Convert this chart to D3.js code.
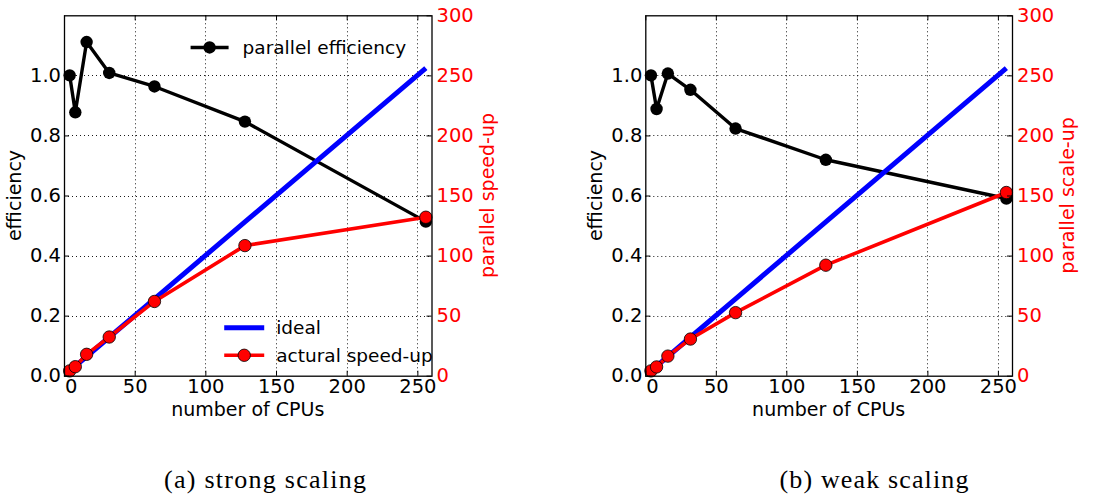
<!DOCTYPE html>
<html><head><meta charset="utf-8">
<script src="https://cdn.jsdelivr.net/npm/d3@7"></script>
<style>
body{margin:0;background:#fff;}
svg{display:block;}
</style></head><body>
<svg id="chart" width="1117" height="494" font-family="DejaVu Sans"></svg>
<script>
const cpus = [4, 8, 16, 32, 64, 128, 256];
const idealSpeedup = [4, 8, 16, 32, 64, 128, 256];
const strongEfficiency = [1.0, 0.877, 1.111, 1.008, 0.963, 0.846, 0.513];
const strongSpeedup = [4.0, 7.5, 17.8, 32.2, 61.8, 108.3, 131.9];
const weakEfficiency = [1.0, 0.888, 1.006, 0.952, 0.823, 0.719, 0.590];
const weakScaleup = [4.0, 7.3, 16.3, 30.5, 52.5, 92.0, 152.5];
const xTicks = [0, 50, 100, 150, 200, 250];
const effTicks = [0.0, 0.2, 0.4, 0.6, 0.8, 1.0];
const speedTicks = [0, 50, 100, 150, 200, 250, 300];
const captions = ["(a) strong scaling", "(b) weak scaling"];
const rightLabels = ["parallel speed-up", "parallel scale-up"];
const legendLabels = ["parallel efficiency", "ideal", "actural speed-up"];

const svg = d3.select("#chart");
const RED = "#ff0000", BLUE = "#0000ff";
const SANS = "DejaVu Sans, Bitstream Vera Sans, sans-serif";
const TICKFS = 19.5, LABFS = 19, LEGFS = 18.5, MR = 6.2;

function panel(p) {
  const x = d3.scaleLinear().domain([0, 260]).range([p.left, p.right]);
  const yL = d3.scaleLinear().domain([0, 1.2]).range([p.bottom, p.top]);
  const yR = d3.scaleLinear().domain([0, 300]).range([p.bottom, p.top]);
  const g = svg.append("g");

  // grid
  g.selectAll(".gx").data(xTicks.filter(t => t > 0)).join("line")
    .attr("x1", d => Math.round(x(d)) + 0.5).attr("x2", d => Math.round(x(d)) + 0.5).attr("y1", p.top).attr("y2", p.bottom)
    .attr("stroke", "#000").attr("stroke-width", 0.9).attr("stroke-dasharray", "1,3");
  g.selectAll(".gy").data(effTicks.filter(t => t > 0)).join("line")
    .attr("x1", p.left).attr("x2", p.right).attr("y1", d => Math.round(yL(d)) + 0.5).attr("y2", d => Math.round(yL(d)) + 0.5)
    .attr("stroke", "#000").attr("stroke-width", 0.9).attr("stroke-dasharray", "1,3");

  const idx = d3.range(cpus.length);
  // efficiency line (left axis)
  g.append("path").datum(idx)
    .attr("d", d3.line().x(i => x(cpus[i])).y(i => yL(p.eff[i])))
    .attr("fill", "none").attr("stroke", "#000").attr("stroke-width", 3.4).attr("stroke-linejoin", "round");
  g.selectAll(".me").data(idx).join("circle")
    .attr("cx", i => x(cpus[i])).attr("cy", i => yL(p.eff[i])).attr("r", MR).attr("fill", "#000");

  // ideal line (right axis)
  g.append("path").datum(idx)
    .attr("d", d3.line().x(i => x(cpus[i])).y(i => yR(idealSpeedup[i])))
    .attr("fill", "none").attr("stroke", BLUE).attr("stroke-width", 5);
  // speed-up line
  g.append("path").datum(idx)
    .attr("d", d3.line().x(i => x(cpus[i])).y(i => yR(p.speed[i])))
    .attr("fill", "none").attr("stroke", RED).attr("stroke-width", 3.6).attr("stroke-linejoin", "round");
  g.selectAll(".ms").data(idx).join("circle")
    .attr("cx", i => x(cpus[i])).attr("cy", i => yR(p.speed[i])).attr("r", MR)
    .attr("fill", RED).attr("stroke", "#000").attr("stroke-width", 0.8);

  // frame
  g.append("rect").attr("x", p.left + 0.5).attr("y", p.top + 0.5)
    .attr("width", p.right - p.left).attr("height", p.bottom - p.top)
    .attr("fill", "none").attr("stroke", "#000").attr("stroke-width", 1.3);

  // axes
  const ax = (sel) => sel.call(s => s.select(".domain").remove())
    .attr("font-family", SANS).attr("font-size", TICKFS);
  g.append("g").attr("transform", `translate(0,${p.bottom})`)
    .call(d3.axisBottom(x).tickValues(xTicks).tickSize(-5).tickPadding(3).tickSizeOuter(0)).call(ax)
    .selectAll("text").attr("fill", "#000")
    .filter(d => d === 0).attr("text-anchor", "start").attr("dx", 0.5);
  g.append("g").attr("transform", `translate(0,${p.top})`)
    .call(d3.axisTop(x).tickValues(xTicks).tickSize(-5).tickFormat("").tickSizeOuter(0)).call(ax);
  g.append("g").attr("transform", `translate(${p.left},0)`)
    .call(d3.axisLeft(yL).tickValues(effTicks).tickFormat(d3.format(".1f")).tickSize(-5).tickPadding(3).tickSizeOuter(0)).call(ax)
    .selectAll("text").attr("fill", "#000");
  g.append("g").attr("transform", `translate(${p.right},0)`)
    .call(d3.axisRight(yR).tickValues(speedTicks).tickSize(-5).tickPadding(5).tickSizeOuter(0)).call(ax)
    .selectAll("text").attr("fill", RED);
  g.selectAll(".tick line").attr("stroke", "#000").attr("stroke-width", 1);

  // axis labels
  const midY = (p.top + p.bottom) / 2;
  g.append("text").attr("x", (p.left + p.right) / 2).attr("y", p.bottom + 40.5)
    .attr("text-anchor", "middle").attr("font-family", SANS).attr("font-size", LABFS).attr("fill", "#000").text("number of CPUs");
  g.append("text").attr("transform", `translate(${p.left - 43},${midY}) rotate(-90)`)
    .attr("text-anchor", "middle").attr("font-family", SANS).attr("font-size", LABFS).attr("fill", "#000").text("efficiency");
  g.append("text").attr("transform", `translate(${p.right + 62},${midY}) rotate(-90)`)
    .attr("text-anchor", "middle").attr("font-family", SANS).attr("font-size", LABFS).attr("fill", RED).text(p.rlabel);

  // caption
  svg.append("text").attr("x", p.capX).attr("y", 488).attr("text-anchor", "middle")
    .attr("font-family", "Liberation Serif, Times New Roman, serif").attr("font-size", 26)
    .attr("textLength", p.capW).attr("lengthAdjust", "spacing")
    .attr("fill", "#000").text(p.caption);

  if (p.legend) {
    const L = g.append("g").attr("font-family", SANS).attr("font-size", LEGFS);
    // legend 1 (efficiency)
    const lx1 = x(103), ly1 = yL(1.093);
    L.append("line").attr("x1", lx1 - 19).attr("x2", lx1 + 19).attr("y1", ly1).attr("y2", ly1)
      .attr("stroke", "#000").attr("stroke-width", 3.4);
    L.append("circle").attr("cx", lx1).attr("cy", ly1).attr("r", MR).attr("fill", "#000");
    L.append("text").attr("x", lx1 + 33).attr("y", ly1).attr("dy", "0.35em")
      .attr("fill", "#000").text(legendLabels[0]);
    // legend 2
    const lx2 = x(127.5), ly2a = yL(0.16), ly2b = yL(0.068);
    L.append("line").attr("x1", lx2 - 20).attr("x2", lx2 + 20).attr("y1", ly2a).attr("y2", ly2a)
      .attr("stroke", BLUE).attr("stroke-width", 5);
    L.append("text").attr("x", lx2 + 32).attr("y", ly2a).attr("dy", "0.35em")
      .attr("fill", "#000").text(legendLabels[1]);
    L.append("line").attr("x1", lx2 - 20).attr("x2", lx2 + 20).attr("y1", ly2b).attr("y2", ly2b)
      .attr("stroke", RED).attr("stroke-width", 3.6);
    L.append("circle").attr("cx", lx2).attr("cy", ly2b).attr("r", MR)
      .attr("fill", RED).attr("stroke", "#000").attr("stroke-width", 0.8);
    L.append("text").attr("x", lx2 + 32).attr("y", ly2b).attr("dy", "0.35em")
      .attr("fill", "#000").text(legendLabels[2]);
  }
}

panel({left: 64, right: 431.5, top: 15.3, bottom: 375.7, eff: strongEfficiency, speed: strongSpeedup,
       rlabel: rightLabels[0], caption: captions[0], capX: 265, capW: 202, legend: true});
panel({left: 645.3, right: 1012, top: 15.3, bottom: 375.7, eff: weakEfficiency, speed: weakScaleup,
       rlabel: rightLabels[1], caption: captions[1], capX: 874, capW: 189, legend: false});
</script>
</body></html>
